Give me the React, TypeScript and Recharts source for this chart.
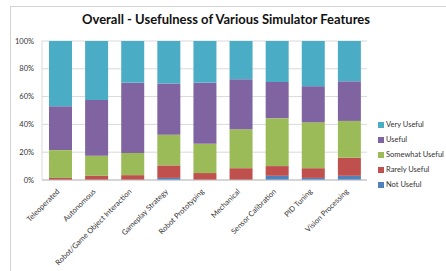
import { BarChart, Bar, XAxis, YAxis, CartesianGrid } from 'recharts'

const features = [
  'Teleoperated',
  'Autonomous',
  'Robot/Game Object Interaction',
  'Gameplay Strategy',
  'Robot Prototyping',
  'Mechanical',
  'Sensor Calibration',
  'PID Tuning',
  'Vision Processing',
]

// percent of responses per feature
const notUseful = [0, 0, 0, 1.5, 0, 0, 3, 1.5, 3]
const rarelyUseful = [1.5, 3, 3.5, 9, 5, 8.5, 7, 7, 13]
const somewhatUseful = [20, 14.5, 16, 22, 21, 28, 34.5, 33, 26.5]
const useful = [31.5, 40, 50.5, 37, 44, 36, 26, 26, 28.5]
const veryUseful = [47, 42.5, 30, 30.5, 30, 27.5, 29.5, 32.5, 29]

const yTicks = [0, 10, 20, 30, 40, 50, 60, 70, 80, 90, 100]

const series = [
  { key: 'notUseful', name: 'Not Useful', color: '#4F81BD' },
  { key: 'rarelyUseful', name: 'Rarely Useful', color: '#C0504D' },
  { key: 'somewhatUseful', name: 'Somewhat Useful', color: '#9BBB59' },
  { key: 'useful', name: 'Useful', color: '#8064A2' },
  { key: 'veryUseful', name: 'Very Useful', color: '#4BACC6' },
]

const data = features.map((feature, i) => ({
  feature,
  notUseful: notUseful[i],
  rarelyUseful: rarelyUseful[i],
  somewhatUseful: somewhatUseful[i],
  useful: useful[i],
  veryUseful: veryUseful[i],
}))

const font = 'Lato, "Open Sans", sans-serif'

function AngledTick({ x, y, payload }: any) {
  return (
    <text
      x={x}
      y={y + 4}
      transform={`rotate(-45, ${x}, ${y + 4})`}
      textAnchor="end"
      fontSize={7.5}
      fill="#333"
      fontFamily={font}
    >
      {payload.value}
    </text>
  )
}

export default function App() {
  return (
    <div
      style={{
        position: 'absolute',
        left: 0,
        top: 0,
        width: 446,
        height: 271,
        background: '#fff',
        fontFamily: font,
      }}
    >
      <div
        style={{
          position: 'absolute',
          left: 10,
          top: 6,
          right: 0,
          bottom: 0,
          borderTop: '1px solid #d4d4d4',
          borderLeft: '1px solid #d4d4d4',
        }}
      />
      <div
        style={{
          position: 'absolute',
          left: 0,
          width: 452,
          top: 11,
          textAlign: 'center',
          fontWeight: 'bold',
          fontSize: 13,
          color: '#111',
        }}
      >
        Overall - Usefulness of Various Simulator Features
      </div>
      <div style={{ position: 'absolute', left: 0, top: 0 }}>
        <BarChart
          width={446}
          height={271}
          data={data}
          margin={{ top: 41, right: 79, left: 10, bottom: 0 }}
          barSize={23}
        >
          <CartesianGrid vertical={false} stroke="#d9d9d9" />
          <XAxis
            dataKey="feature"
            interval={0}
            height={91}
            tickLine={false}
            axisLine={{ stroke: '#bfbfbf' }}
            tick={<AngledTick />}
          />
          <YAxis
            width={32}
            domain={[0, 100]}
            ticks={yTicks}
            tickFormatter={(v: number) => `${v}%`}
            tickLine={false}
            axisLine={{ stroke: '#d9d9d9' }}
            tick={{ fontSize: 7.5, fill: '#333', fontFamily: font }}
          />
          {series.map((s) => (
            <Bar
              key={s.key}
              dataKey={s.key}
              name={s.name}
              stackId="a"
              fill={s.color}
              isAnimationActive={false}
            />
          ))}
        </BarChart>
      </div>
      <div style={{ position: 'absolute', left: 378, top: 117, fontSize: 7.5, color: '#333' }}>
        {[...series].reverse().map((s) => (
          <div key={s.key} style={{ display: 'flex', alignItems: 'center', height: 15 }}>
            <span style={{ width: 6, height: 6, background: s.color, marginRight: 2 }} />
            {s.name}
          </div>
        ))}
      </div>
    </div>
  )
}
